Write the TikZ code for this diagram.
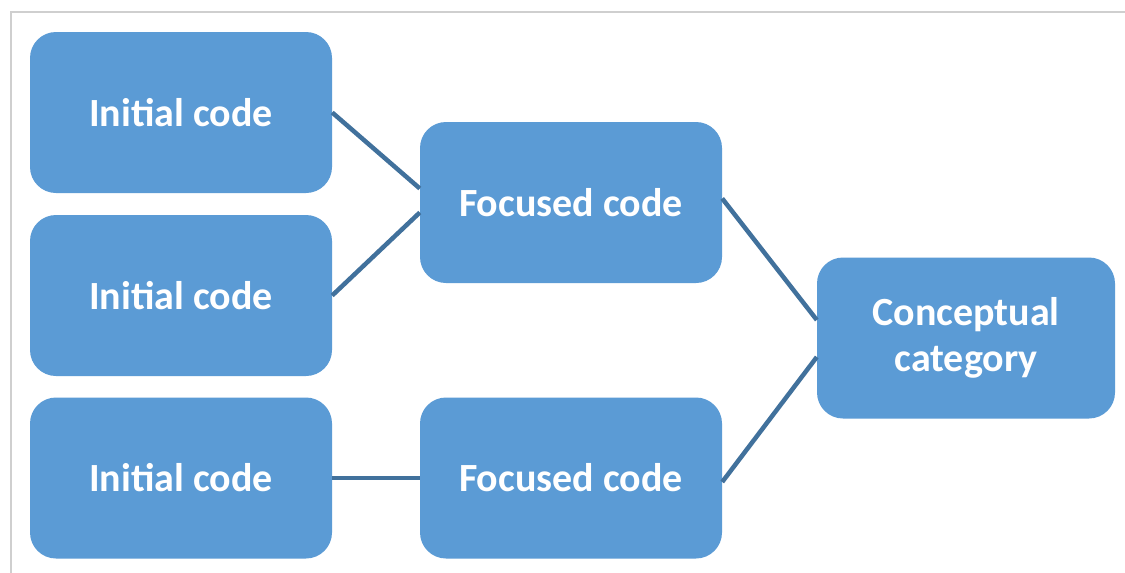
\documentclass[tikz,border=0pt]{standalone}
\usepackage{fontspec}
\setmainfont{Carlito}
\definecolor{boxfill}{HTML}{5B9BD5}
\definecolor{linkcol}{HTML}{41719C}
\definecolor{framecol}{HTML}{CFCFCF}
\tikzset{
  codebox/.style={draw=none, fill=boxfill, rounded corners=26pt, minimum width=302pt, minimum height=161pt,
    text=white, align=center, font=\fontsize{40}{46}\selectfont\bfseries, inner sep=0pt},
  link/.style={draw=linkcol, line width=4.5pt},
  frame/.style={draw=framecol, line width=1.5pt}
}
\begin{document}
\begin{tikzpicture}[x=1pt,y=-1pt]
\useasboundingbox (0,0) rectangle (1125,573);
\fill[white] (0,0) rectangle (1125,573);
\coordinate (fa) at (11,573);
\coordinate (fb) at (11,12);
\coordinate (fc) at (1125,12);
\draw[frame] (fa) -- (fb) -- (fc);
\node[codebox] (i1) at (181,112.5) {Initial code};
\node[codebox] (i2) at (181,295.5) {Initial code};
\node[codebox] (i3) at (181,478) {Initial code};
\node[codebox] (f1) at (571,202.5) {Focused code};
\node[codebox] (f2) at (571,478) {Focused code};
\node[codebox, minimum width=298pt] (cc) at (966,338) {Conceptual\\category};
\draw[link] (i1.east) -- ([yshift=14pt]f1.west);
\draw[link] (i2.east) -- ([yshift=-10pt]f1.west);
\draw[link] (i3.east) -- (f2.west);
\draw[link] ([yshift=4pt]f1.east) -- ([yshift=18pt]cc.west);
\draw[link] ([yshift=-4pt]f2.east) -- ([yshift=-19pt]cc.west);
\end{tikzpicture}
\end{document}
